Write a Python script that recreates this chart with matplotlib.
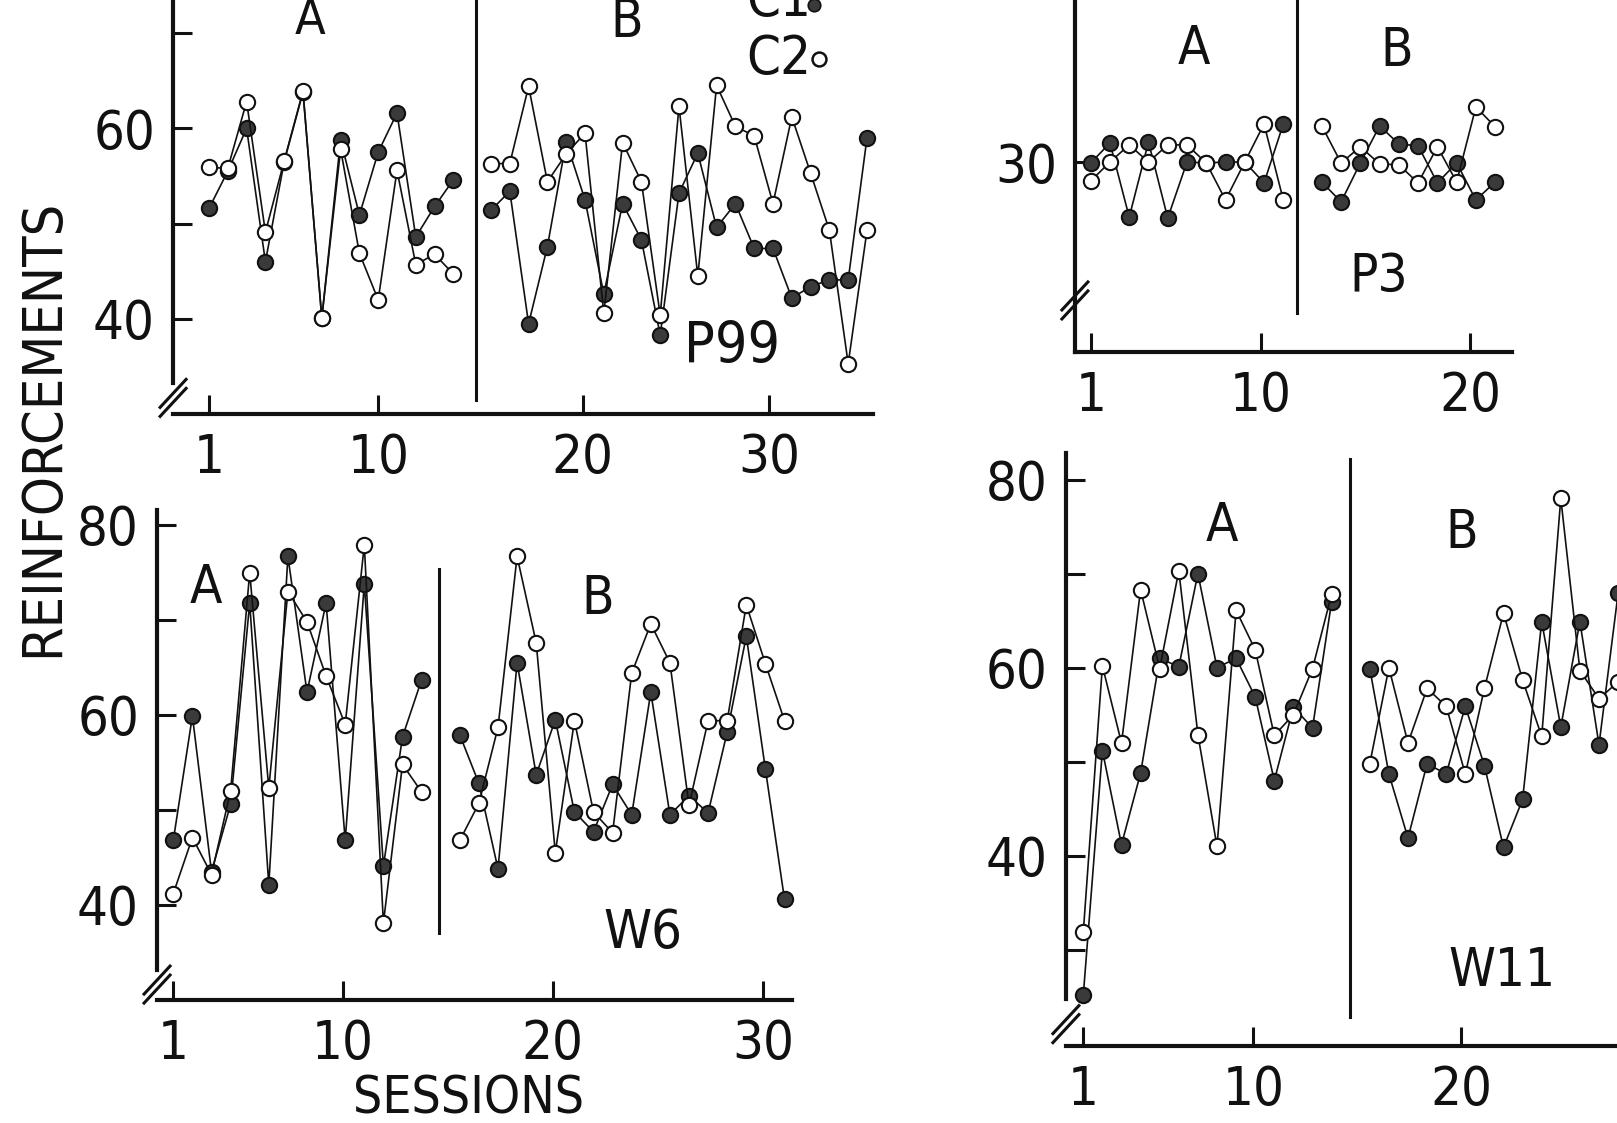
import matplotlib
matplotlib.use("Agg")
import matplotlib.pyplot as plt
import numpy as np
from matplotlib import font_manager

# ---- data (reinforcements per session) ----
# C1 = filled circles, C2 = open circles; phase A then phase B

p99_a_c1 = [51.6, 55.5, 60.0, 46.0, 56.5, 63.8, 40.1, 58.8, 50.9, 57.5, 61.6, 48.6, 51.8, 54.6]
p99_a_c2 = [55.9, 55.8, 62.8, 49.1, 56.6, 63.9, 40.1, 57.8, 46.9, 42.0, 55.6, 45.7, 46.8, 44.7]
p99_b_c1 = [51.4, 53.4, 39.5, 47.6, 58.6, 52.5, 42.6, 52.1, 48.3, 38.3, 53.2,
            57.4, 49.6, 52.1, 47.4, 47.4, 42.2, 43.4, 44.1, 44.1, 59.0]
p99_b_c2 = [56.3, 56.3, 64.4, 54.4, 57.3, 59.5, 40.6, 58.5, 54.4, 40.4, 62.3,
            44.5, 64.5, 60.2, 59.2, 52.1, 61.2, 55.3, 49.3, 35.3, 49.3]

p3_a_c1 = [29.9, 32.0, 24.2, 32.1, 24.1, 30.0, 29.9, 30.0, 30.0, 27.8, 34.0]
p3_a_c2 = [28.0, 30.0, 31.8, 30.0, 31.8, 31.8, 29.9, 26.0, 30.0, 34.0, 26.0]
p3_b_c1 = [27.9, 25.8, 29.9, 33.8, 31.9, 31.7, 27.8, 29.9, 26.0, 27.9]
p3_b_c2 = [33.8, 29.9, 31.6, 29.8, 29.7, 27.8, 31.6, 27.9, 35.8, 33.7]

w6_a_c1 = [46.8, 59.9, 43.5, 50.6, 71.8, 42.1, 76.7, 62.4, 71.8, 46.8, 73.8, 44.1, 57.7, 63.7]
w6_a_c2 = [41.2, 47.1, 43.2, 52.0, 75.0, 52.3, 73.0, 69.8, 64.1, 59.0, 77.9, 38.1, 54.8, 51.9]
w6_b_c1 = [57.9, 52.8, 43.8, 65.5, 53.7, 59.5, 49.8, 47.7, 52.7, 49.5, 62.4, 49.5,
           51.5, 49.7, 58.2, 68.3, 54.3, 40.6]
w6_b_c2 = [46.8, 50.7, 58.7, 76.7, 67.6, 45.5, 59.4, 49.8, 47.6, 64.4, 69.6, 65.5,
           50.5, 59.4, 59.4, 71.6, 65.4, 59.4]

w11_a_c1 = [25.2, 51.2, 41.2, 48.8, 61.0, 60.1, 70.0, 60.0, 61.0, 56.9, 48.0, 55.8, 53.6, 67.0]
w11_a_c2 = [31.9, 60.2, 52.0, 68.3, 59.9, 70.3, 52.9, 41.0, 66.1, 61.9, 52.8, 55.0, 59.9, 67.8]
w11_b_c1 = [59.9, 48.7, 41.9, 49.8, 48.7, 55.9, 49.6, 40.9, 46.0, 64.9, 53.7, 64.9, 51.8, 67.9]
w11_b_c2 = [49.8, 60.0, 52.0, 57.8, 55.9, 48.7, 57.8, 65.8, 58.7, 52.7, 78.0, 59.7, 56.7, 58.5]

session_labels = ["1", "10", "20", "30"]

W, H = 1617, 1123
INK = "#111111"

names = {f.name for f in font_manager.fontManager.ttflist}
FONT = "Liberation Sans Narrow" if "Liberation Sans Narrow" in names else "DejaVu Sans"
plt.rcParams["font.family"] = [FONT, "DejaVu Sans"]
if FONT == "DejaVu Sans":
    plt.rcParams["font.stretch"] = "condensed"


def make_axes(fig, lay):
    """Place an axes so that session / value map onto the scan's pixels."""
    x0 = lay["s1"] + (lay["xlim"][0] - 1) * lay["ds"]
    x1 = lay["s1"] + (lay["xlim"][1] - 1) * lay["ds"]
    y_top = lay["pyref"] - (lay["ylim"][1] - lay["vref"]) * lay["dv"]
    y_bot = lay["pyref"] - (lay["ylim"][0] - lay["vref"]) * lay["dv"]
    ax = fig.add_axes([x0 / W, 1 - y_bot / H, (x1 - x0) / W, (y_bot - y_top) / H])
    ax.set_xlim(*lay["xlim"])
    ax.set_ylim(*lay["ylim"])
    ax.patch.set_alpha(0)
    for side in ("top", "right"):
        ax.spines[side].set_visible(False)
    for side in ("left", "bottom"):
        ax.spines[side].set_linewidth(3)
        ax.spines[side].set_color(INK)
    ax.tick_params(axis="both", which="both", direction="in", length=14, width=2.2,
                   colors=INK, labelsize=39, pad=13)
    ax.set_yticks(lay["ymajor"])
    ax.set_yticks(lay["yminor"], minor=True)
    ax.set_xticks(lay["xticks"])
    ax.set_xticklabels(session_labels[:len(lay["xticks"])])
    if lay.get("break_v") is not None:
        bv = lay["break_v"]
        if lay.get("spine_low") is not None:
            ax.spines["left"].set_bounds(lay["spine_low"], lay["ylim"][1])
        dx, dy = 13 / lay["ds"], 14 / lay["dv"]
        for shift in (0, -9 / lay["dv"]):
            ax.plot([lay["xlim"][0] - dx, lay["xlim"][0] + dx],
                    [bv - dy + shift, bv + dy + shift],
                    color=INK, lw=2.2, clip_on=False)
    sx, sv0, sv1 = lay["sep"]
    ax.plot([sx, sx], [sv0, sv1], color=INK, lw=2.2, clip_on=False)
    return ax


def draw_series(ax, x, y, filled):
    ax.plot(x, y, color=INK, lw=1.2, marker="o", ms=11,
            mfc="#3a3a3a" if filled else "white", mec=INK, mew=1.5,
            zorder=3 if filled else 4, clip_on=False)


def panel(fig, lay, a_c1, a_c2, b_c1, b_c2, b_start, texts):
    ax = make_axes(fig, lay)
    xa = np.arange(1, len(a_c1) + 1)
    xb = np.arange(b_start, b_start + len(b_c1))
    draw_series(ax, xa, a_c1, True)
    draw_series(ax, xb, b_c1, True)
    draw_series(ax, xa, a_c2, False)
    draw_series(ax, xb, b_c2, False)
    for (tx, ty, s, size) in texts:
        ax.text(tx, ty, s, ha="center", va="center", fontsize=size, color=INK, clip_on=False)
    return ax


def main():
    fig = plt.figure(figsize=(W / 100, H / 100), dpi=100)
    fig.patch.set_facecolor("white")

    lay_p99 = dict(s1=209, ds=18.8, vref=40, pyref=319, dv=9.535, xlim=(-0.91, 36.3), ylim=(30, 76),
                   ymajor=[40, 60], yminor=[50, 70], xticks=[1, 10, 20.87, 30.8],
                   break_v=32.2, spine_low=33.3, sep=(15.2, 31.5, 76))
    ax = panel(fig, lay_p99, p99_a_c1, p99_a_c2, p99_b_c1, p99_b_c2, 16,
               [(6.4, 71.4, "A", 36), (23.2, 71.2, "B", 38), (28.8, 37.0, "P99", 41)])
    ax.text(29.56, 73.3, "C1", ha="left", va="center", fontsize=39, color=INK, clip_on=False)
    ax.text(29.56, 67.3, "C2", ha="left", va="center", fontsize=39, color=INK, clip_on=False)
    ax.plot([33.2], [72.9], marker="o", ms=9, mfc="#3a3a3a", mec=INK, mew=1.2, clip_on=False)
    ax.plot([33.45], [67.3], marker="o", ms=10, mfc="white", mec=INK, mew=1.8, clip_on=False)

    lay_p3 = dict(s1=1090.7, ds=19.26, vref=30, pyref=162, dv=9.5, xlim=(0.18, 22.9), ylim=(10, 49.6),
                  ymajor=[30], yminor=[], xticks=[1, 9.84, 20.7],
                  break_v=15.9, spine_low=None, sep=(11.7, 14.1, 49.6))
    panel(fig, lay_p3, p3_a_c1, p3_a_c2, p3_b_c1, p3_b_c2, 13,
          [(6.36, 41.9, "A", 38), (16.9, 41.7, "B", 38), (15.97, 17.9, "P3", 38)])

    lay_w6 = dict(s1=173.3, ds=19.1, vref=40, pyref=905, dv=9.5, xlim=(0.15, 33.4), ylim=(30, 81.6),
                  ymajor=[40, 60, 80], yminor=[50, 70], xticks=[1, 9.87, 20.87, 31.87],
                  break_v=32.1, spine_low=33.2, sep=(14.9, 37.1, 75.4))
    panel(fig, lay_w6, w6_a_c1, w6_a_c2, w6_b_c1, w6_b_c2, 16,
          [(2.7, 73.4, "A", 38), (23.2, 72.2, "B", 38), (25.6, 37.1, "W6", 39)])

    lay_w11 = dict(s1=1083.3, ds=19.1, vref=30, pyref=950, dv=9.41, xlim=(0.09, 33), ylim=(19.8, 82.8),
                   ymajor=[40, 60, 80], yminor=[30, 50, 70], xticks=[1, 9.9, 20.8, 30.8],
                   break_v=22.6, spine_low=24.8, sep=(14.96, 22.9, 82.2))
    panel(fig, lay_w11, w11_a_c1, w11_a_c2, w11_b_c1, w11_b_c2, 16,
          [(8.26, 75.1, "A", 38), (20.8, 74.3, "B", 38), (22.9, 27.8, "W11", 38)])

    fig.text(43 / W, 1 - 428 / H, "REINFORCEMENTS", rotation=90, ha="center", va="center",
             fontsize=40, color=INK)
    fig.text(469 / W, 1 - 1099 / H, "SESSIONS", ha="center", va="center",
             fontsize=37, color=INK)

    fig.savefig("out.png", dpi=100, facecolor="white")


if __name__ == "__main__":
    main()
